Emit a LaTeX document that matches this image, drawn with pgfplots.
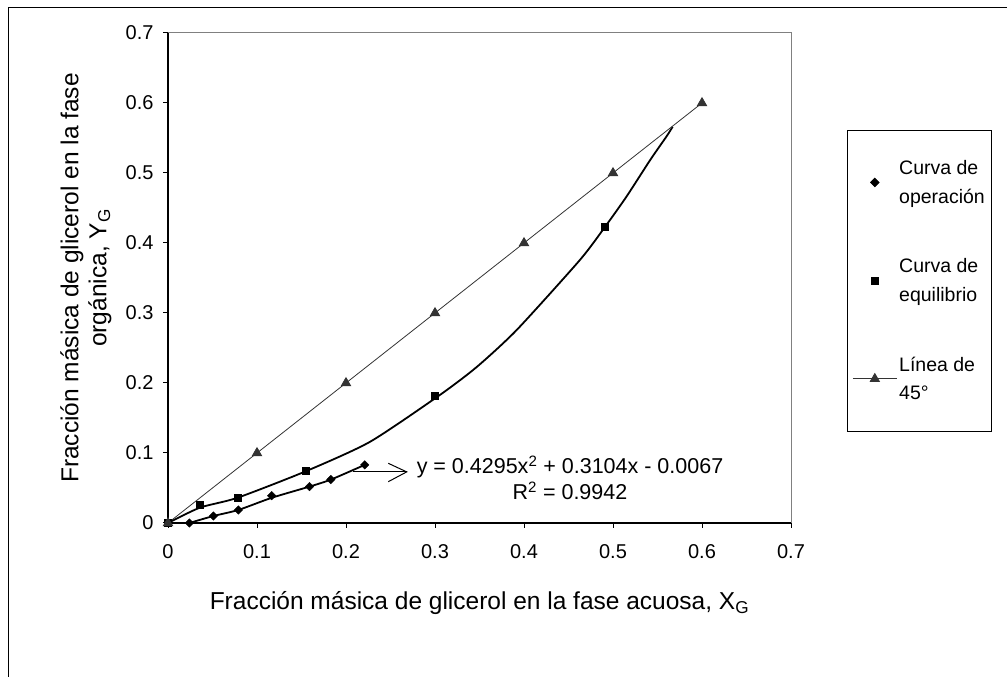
\documentclass[border=0pt]{standalone}
\usepackage{fontspec}
\setmainfont{Liberation Sans}
\usepackage{pgfplots}
\pgfplotsset{compat=1.18}
\definecolor{tri}{HTML}{333333}
\definecolor{pframe}{HTML}{808080}
\begin{document}
\begin{tikzpicture}[x=1pt,y=1pt]
\useasboundingbox (0,0) rectangle (1007,677);
\draw[line width=1pt] (8,0) -- (8,669) -- (1007,669);
\begin{axis}[
  at={(168pt,154pt)}, anchor=south west,
  scale only axis, width=623pt, height=490pt,
  xmin=0, xmax=0.7, ymin=0, ymax=0.7,
  xtick={0,0.1,0.2,0.3,0.4,0.5,0.6,0.7},
  ytick={0,0.1,0.2,0.3,0.4,0.5,0.6,0.7},
  xticklabels={0,0.1,0.2,0.3,0.4,0.5,0.6,0.7},
  yticklabels={0,0.1,0.2,0.3,0.4,0.5,0.6,0.7},
  tick pos=left, tick align=outside, major tick length=5pt,
  axis line style={pframe, line width=1pt},
  tick style={black, line width=1pt},
  ticklabel style={font=\fontsize{20}{22}\selectfont},
  xticklabel style={yshift=-13pt},
  yticklabel style={xshift=-6pt},
  /pgf/number format/assume math mode=true,
  clip=false,
  xlabel={Fracción másica de glicerol en la fase acuosa, X\textsubscript{G}},
  xlabel style={at={(axis description cs:0.5,-0.1633)}, anchor=center, font=\fontsize{24.5}{28}\selectfont},
  ylabel={Fracción másica de glicerol en la fase\\orgánica, Y\textsubscript{G}},
  ylabel style={at={(axis description cs:-0.1316,0.5)}, anchor=center, align=center, font=\fontsize{24.5}{28}\selectfont},
  legend style={at={(axis description cs:1.0899,0.802)}, anchor=north west, draw=black, line width=0.8pt,
    font=\fontsize{19.5}{28.5}\selectfont, cells={align=left}, row sep=50pt, inner xsep=5pt, inner ysep=28pt,
    nodes={inner sep=2pt}},
  legend cell align=left,
  legend image code/.code={\path[draw=none,fill=none] (0pt,-2pt) rectangle (44pt,2pt);
    \draw[mark repeat=2,mark phase=2,#1] plot coordinates {(0pt,0pt) (22pt,0pt) (44pt,0pt)};},
]
\draw[black, line width=1.2pt] (rel axis cs:1,0) -- (rel axis cs:0,0) -- (rel axis cs:0,1);
% equilibrium curve line
\addplot[black, line width=1.8pt, smooth, tension=0.4, forget plot] coordinates {
(0,0) (0.036,0.022) (0.078,0.036) (0.155,0.074) (0.227,0.116) (0.3056,0.183) (0.347,0.223)
(0.392,0.276) (0.463,0.376) (0.491,0.423) (0.515,0.466) (0.542,0.519) (0.560,0.552) (0.567,0.566)};
% operation curve line
\addplot[black, line width=1.8pt, smooth, tension=0.4, forget plot] coordinates {
(0.024,0) (0.051,0.010) (0.079,0.0186) (0.1165,0.036) (0.159,0.052) (0.183,0.062) (0.221,0.083)};
% operation points
\addplot[only marks, mark=square*, mark size=3pt, mark options={rotate=45, fill=black, draw=black}] coordinates {
(0.024,0) (0.051,0.010) (0.079,0.0186) (0.1165,0.039) (0.159,0.052) (0.183,0.062) (0.221,0.083)};
\addlegendentry{Curva de\\operación}
% equilibrium points
\addplot[only marks, mark=square*, mark size=3.5pt, mark options={fill=black, draw=black}] coordinates {
(0,0) (0.036,0.026) (0.078,0.036) (0.155,0.074) (0.300,0.182) (0.491,0.423)};
\addlegendentry{Curva de\\equilibrio}
% 45 line
\addplot[tri, line width=0.8pt, mark=triangle*, mark size=5.3pt, mark options={fill=tri, draw=tri}] coordinates {
(0,0) (0.1,0.1) (0.2,0.2) (0.3,0.3) (0.4,0.4) (0.5,0.5) (0.6,0.6)};
\addlegendentry{Línea de\\45°}
% trendline annotation
\draw[black, line width=1pt] (axis cs:0.208,0.073) -- (axis cs:0.2682,0.073);
\draw[black, line width=1pt] (axis cs:0.2475,0.0853) -- (axis cs:0.2682,0.073) -- (axis cs:0.2475,0.059);
\node[align=center, font=\fontsize{21.5}{26}\selectfont, inner sep=0pt] at (axis cs:0.4517,0.0643)
  {y = 0.4295x\textsuperscript{2} + 0.3104x - 0.0067\\R\textsuperscript{2} = 0.9942};
\end{axis}
\end{tikzpicture}
\end{document}
